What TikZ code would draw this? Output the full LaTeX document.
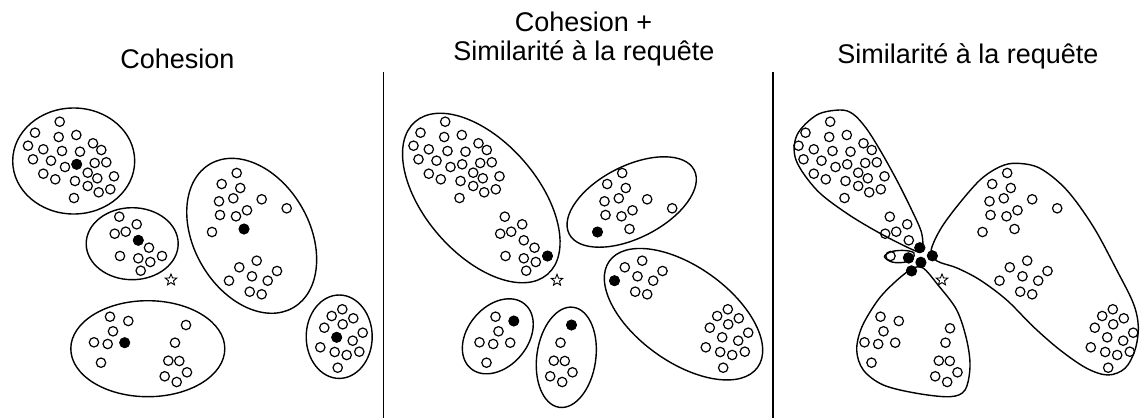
\documentclass[tikz,border=0pt]{standalone}
\usepackage{fontspec}
\setmainfont{Liberation Sans}
\usetikzlibrary{shapes.geometric}
\begin{document}
\begin{tikzpicture}[x=1pt,y=-1pt,
  odot/.style={draw=black, line width=1.2pt},
  fdot/.style={fill=black},
  hull/.style={draw=black, line width=1.4pt},
  divider/.style={draw=black, line width=1.2pt},
  title/.style={font=\fontsize{27}{30}\selectfont, anchor=base, inner sep=0pt},
  query/.style={star, star points=5, star point ratio=2.3, draw=black, line width=0.9pt, minimum size=12pt, inner sep=0pt}]
\useasboundingbox (0,0) rectangle (1141,418);
\newcommand\opendots{%
\foreach \x/\y in {59.7/121.7, 35/132.7, 58.7/137, 76.3/135, 28/145.7, 43.3/149.3, 62/151, 80/151.7, 93/143.3, 101.3/150, 33/159.3, 51/160.7, 65/167, 76.7/164.3, 94.7/163, 106.3/162.3, 43.3/173.7, 55.3/179.3, 75/181, 87.7/172.7, 97.3/178.3, 114/176.3, 87.7/186, 98.7/192.3, 110.3/189.3, 74/198} {\draw[odot] (\x,\y) circle (4.7pt);}%
\foreach \x/\y in {119.3/216.7, 136.7/224.3, 125.7/231.7, 114.7/233.7, 138.3/240.3, 149/247.7, 120/256, 138.3/258.3, 162/256, 150.3/262, 140.7/270.7} {\draw[odot] (\x,\y) circle (4.7pt);}%
\foreach \x/\y in {236.7/173, 221.7/184, 240.3/188, 219/201.3, 233.3/198.3, 261.7/199.3, 286.7/208.3, 220/215, 236/216.3, 247/210.3, 212/232, 244/229} {\draw[odot] (\x,\y) circle (4.7pt);}%
\foreach \x/\y in {256.7/260.7, 239.3/267.3, 252/276.3, 277/271, 229/280.7, 267.7/280.7, 249.7/291.7, 261.7/294.3} {\draw[odot] (\x,\y) circle (4.7pt);}%
\foreach \x/\y in {110/316.7, 128.3/321, 113/331.3, 94/342.3, 107.7/344, 124.7/342.7, 101/362.7} {\draw[odot] (\x,\y) circle (4.7pt);}%
\foreach \x/\y in {175/342.7, 168.3/360.7, 179.3/361, 187/372.3, 164.7/376.3, 176.7/382} {\draw[odot] (\x,\y) circle (4.7pt);}%
\foreach \x/\y in {342.3/309.3, 331.7/316, 353.3/318.3, 342.7/324.3, 324.3/327.7, 336.7/337.3, 362.7/332.7, 352.7/340.7, 320.3/347.3, 334.7/352, 346.7/355, 359.3/351.7, 337.7/367.7} {\draw[odot] (\x,\y) circle (4.7pt);}%
}
% titles
\node[title] (t1) at (177.5,68.5) {Cohesion};
\node[title] (t2a) at (583.5,31) {Cohesion +};
\node[title] (t2b) at (584,60.5) {Similarité à la requête};
\node[title] (t3) at (968,63) {Similarité à la requête};
% dividers
\draw[divider] (383.5,72) -- (383.5,418);
\draw[divider] (773,72) -- (773,418);
% ---------- panel 1 ----------
\draw[hull] (73.7,161) ellipse (61pt and 53pt);
\draw[hull] (132.2,243.7) ellipse (46pt and 36pt);
\draw[hull, rotate around={30:(251.7,235.8)}] (251.7,235.8) ellipse (57.7pt and 83pt);
\draw[hull] (147.8,348.7) ellipse (77pt and 48pt);
\draw[hull] (339.2,336.7) ellipse (33pt and 41.7pt);
\opendots
\draw[odot] (186,325) circle (4.7pt);
\foreach \x/\y in {76.7/164.3, 138.3/240.3, 244/229, 124.7/342.7, 336.7/337.3} {\fill[fdot] (\x,\y) circle (5.5pt);}
\node[query] (q1) at (171,280) {};
% ---------- panel 2 ----------
\draw[hull, rotate around={-49:(481.3,198)}] (481.3,198) ellipse (101pt and 56.4pt);
\draw[hull, rotate around={27:(631.7,202)}] (631.7,202) ellipse (70.2pt and 36pt);
\draw[hull, rotate around={-35.6:(683.5,314.2)}] (683.5,314.2) ellipse (91.2pt and 47.7pt);
\draw[hull, rotate around={50:(497.8,336.3)}] (497.8,336.3) ellipse (42pt and 30pt);
\draw[hull, rotate around={-8:(566.3,357.3)}] (566.3,357.3) ellipse (29.5pt and 50.5pt);
\begin{scope}[xshift=385.5pt]
\opendots
\draw[odot] (186,325) circle (4.7pt);
\foreach \x/\y in {162/256, 212/232, 229/280.7, 128.3/321, 186/325} {\fill[fdot] (\x,\y) circle (5.5pt);}
\end{scope}
\node[query] (q2) at (557,280.3) {};
% ---------- panel 3 ----------
\draw[hull] plot[smooth cycle, tension=0.55] coordinates {(922,251) (913.3,250) (880,233.3) (846.7,213.3) (816.7,190) (796,160) (797,135) (816.7,115) (840,110) (853,114) (866,128) (880,150) (896.7,180) (911.7,210) (921.7,233.3)};
\draw[hull] plot[smooth cycle, tension=0.6] coordinates {(884.5,256.5) (892,251.5) (905,250.5) (914,253) (912,259) (904,262.3) (892,262)};
\draw[hull] plot[smooth cycle, tension=0.55] coordinates {(911.7,269) (895,282) (878,300) (862,326.7) (856.7,350) (863.3,370) (883.3,385) (916.7,393.3) (950,396.7) (965,390) (970,366.7) (966.7,340) (956.7,310) (938,285) (923,268)};
\draw[hull] plot[smooth cycle, tension=0.55] coordinates {(931,251) (940,230) (956.7,206.7) (980,180) (1000,166.7) (1016.7,163.3) (1040,168.3) (1066.7,190) (1093.3,226.7) (1116.7,270) (1133.3,303.3) (1138.3,326.7) (1135,350) (1125,368.3) (1108,375) (1086.7,368.3) (1060,350) (1033.3,326.7) (1006.7,300) (980,280) (957,268) (937,261)};
\begin{scope}[xshift=770.5pt]
\opendots
\draw[odot] (179.5,328.3) circle (4.7pt);
\end{scope}
\foreach \x/\y in {920/247.7, 908.3/257.7, 921/262.7, 932.3/255.7, 911.7/271} {\fill[fdot] (\x,\y) circle (5.5pt);}
\node[query] (q3) at (942,280) {};
\end{tikzpicture}
\end{document}
